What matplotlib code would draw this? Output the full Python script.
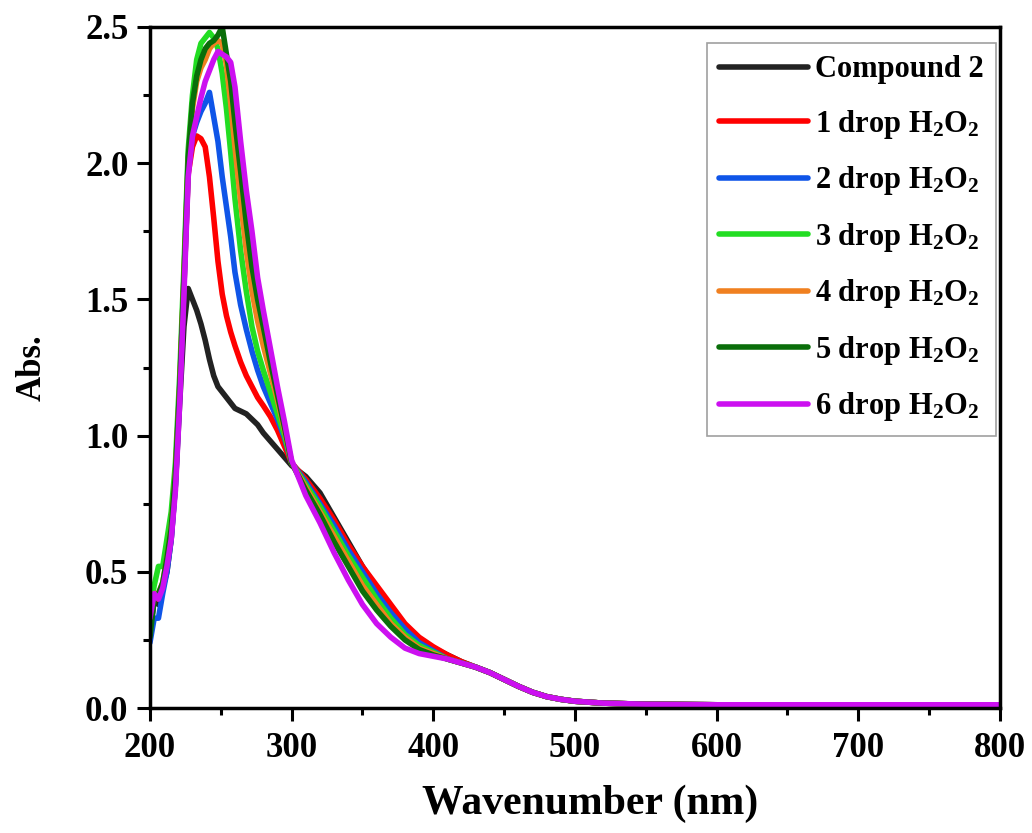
import matplotlib
matplotlib.use("Agg")
import matplotlib.pyplot as plt
from matplotlib.ticker import MultipleLocator, FormatStrFormatter

plt.rcParams['font.family'] = ['Liberation Serif', 'DejaVu Serif']
plt.rcParams['font.weight'] = 'bold'
plt.rcParams['mathtext.fontset'] = 'custom'
plt.rcParams['mathtext.rm'] = 'Liberation Serif:bold'
plt.rcParams['mathtext.it'] = 'Liberation Serif:bold'
plt.rcParams['mathtext.bf'] = 'Liberation Serif:bold'

# wavelength grid (nm)
wl = [200, 203, 206, 209, 212, 215, 218, 221, 224, 227, 230, 233, 236, 239, 242,
      245, 248, 251, 254, 257, 260, 264, 268, 272, 276, 280, 285, 290, 295, 300,
      310, 320, 330, 340, 350, 360, 370, 380, 390, 400, 410, 420, 430, 440, 450,
      460, 470, 480, 490, 500, 520, 550, 600, 650, 700, 750, 800]

tail = [0.18, 0.165, 0.15, 0.13, 0.105, 0.08, 0.058, 0.042, 0.032, 0.025,
        0.018, 0.014, 0.012, 0.012, 0.012, 0.012, 0.012]
tail_hi = [0.195, 0.17, 0.15, 0.13, 0.105, 0.08, 0.058, 0.042, 0.032, 0.025,
           0.018, 0.014, 0.012, 0.012, 0.012, 0.012, 0.012]

compound2 = [0.27, 0.40, 0.38, 0.44, 0.50, 0.62, 0.82, 1.12, 1.40, 1.54, 1.50, 1.46, 1.41,
             1.35, 1.28, 1.22, 1.18, 1.16, 1.14, 1.12, 1.10, 1.09, 1.08, 1.06, 1.04, 1.01,
             0.98, 0.95, 0.92, 0.89,
             0.85, 0.79, 0.70, 0.61, 0.52, 0.44, 0.37, 0.30, 0.25, 0.22] + tail_hi
drop1 = [0.32, 0.40, 0.40, 0.45, 0.52, 0.64, 0.84, 1.16, 1.55, 1.96, 2.06, 2.10, 2.09,
         2.06, 1.95, 1.80, 1.64, 1.52, 1.44, 1.38, 1.33, 1.27, 1.22, 1.18, 1.14, 1.11,
         1.07, 1.02, 0.96, 0.90,
         0.84, 0.77, 0.69, 0.60, 0.52, 0.45, 0.38, 0.31, 0.26, 0.225] + tail_hi
drop2 = [0.24, 0.33, 0.33, 0.42, 0.50, 0.62, 0.82, 1.15, 1.55, 1.97, 2.10, 2.15, 2.19,
         2.22, 2.26, 2.17, 2.08, 1.95, 1.84, 1.73, 1.60, 1.48, 1.39, 1.31, 1.24, 1.18,
         1.12, 1.06, 0.99, 0.90,
         0.83, 0.75, 0.67, 0.58, 0.50, 0.42, 0.35, 0.29, 0.24, 0.21] + tail
drop3 = [0.35, 0.45, 0.52, 0.52, 0.62, 0.72, 0.90, 1.22, 1.62, 2.05, 2.25, 2.38, 2.44,
         2.46, 2.48, 2.46, 2.42, 2.33, 2.20, 2.04, 1.87, 1.68, 1.53, 1.40, 1.31, 1.24,
         1.16, 1.08, 1.00, 0.90,
         0.82, 0.74, 0.65, 0.56, 0.48, 0.40, 0.33, 0.27, 0.23, 0.205] + tail
drop4 = [0.30, 0.42, 0.42, 0.46, 0.55, 0.66, 0.86, 1.18, 1.58, 2.00, 2.20, 2.30, 2.35,
         2.38, 2.42, 2.44, 2.45, 2.44, 2.36, 2.22, 2.06, 1.86, 1.68, 1.53, 1.42, 1.33,
         1.23, 1.13, 1.02, 0.90,
         0.81, 0.72, 0.63, 0.54, 0.45, 0.38, 0.31, 0.26, 0.22, 0.20] + tail
drop5 = [0.26, 0.40, 0.42, 0.46, 0.55, 0.66, 0.86, 1.18, 1.58, 2.02, 2.22, 2.32, 2.38,
         2.42, 2.44, 2.45, 2.47, 2.50, 2.40, 2.30, 2.15, 1.97, 1.78, 1.62, 1.50, 1.40,
         1.27, 1.15, 1.03, 0.90,
         0.80, 0.71, 0.61, 0.52, 0.43, 0.36, 0.30, 0.25, 0.215, 0.195] + tail
drop6 = [0.33, 0.42, 0.40, 0.44, 0.52, 0.62, 0.80, 1.12, 1.52, 1.95, 2.10, 2.17, 2.24,
         2.30, 2.34, 2.38, 2.41, 2.40, 2.39, 2.37, 2.28, 2.08, 1.90, 1.75, 1.58, 1.46,
         1.32, 1.18, 1.05, 0.91,
         0.78, 0.68, 0.57, 0.47, 0.38, 0.31, 0.26, 0.22, 0.20, 0.19] + tail

series = [compound2, drop1, drop2, drop3, drop4, drop5, drop6]
labels = ['Compound 2'] + [r'%d drop H$_2$O$_2$' % i for i in range(1, 7)]
colors = ['#222222', '#ff0000', '#0f55e8', '#22dd22', '#f08020', '#0a6e0a', '#cc10f0']

fig = plt.figure(figsize=(10.32, 8.33), dpi=100)
ax = fig.add_axes([0.1453, 0.150, 0.8237, 0.8176])

for ys, lab, c in zip(series, labels, colors):
    ax.plot(wl, ys, color=c, lw=4, label=lab, solid_capstyle='round',
            solid_joinstyle='round')

ax.set_xlim(200, 800)
ax.set_ylim(0, 2.5)
ax.xaxis.set_major_locator(MultipleLocator(100))
ax.xaxis.set_minor_locator(MultipleLocator(50))
ax.yaxis.set_major_locator(MultipleLocator(0.5))
ax.yaxis.set_minor_locator(MultipleLocator(0.25))
ax.yaxis.set_major_formatter(FormatStrFormatter('%.1f'))
ax.tick_params(which='major', direction='out', length=9.5, width=2.2, labelsize=25,
               top=False, right=False)
ax.tick_params(axis='x', which='major', pad=8)
ax.tick_params(axis='y', which='major', pad=6)
ax.tick_params(which='minor', direction='out', length=5, width=2.2, top=False, right=False)
for sp in ax.spines.values():
    sp.set_linewidth(2.5)

ax.set_xlabel('Wavenumber (nm)', fontsize=30, fontweight='bold', labelpad=14)
ax.xaxis.label.set_x(0.518)
ax.set_ylabel('Abs.', fontsize=25, fontweight='bold', labelpad=26)

leg = ax.legend(loc='upper right', bbox_to_anchor=(0.9953, 0.9765), fontsize=22,
                frameon=True, fancybox=False, edgecolor='#888888',
                handlelength=2.9, handletextpad=0.25, labelspacing=0.77,
                borderpad=0.4, borderaxespad=0.0)
leg.get_frame().set_linewidth(1.2)
for t in leg.get_texts():
    t.set_fontweight('bold')

fig.savefig('out.png', dpi=100)
